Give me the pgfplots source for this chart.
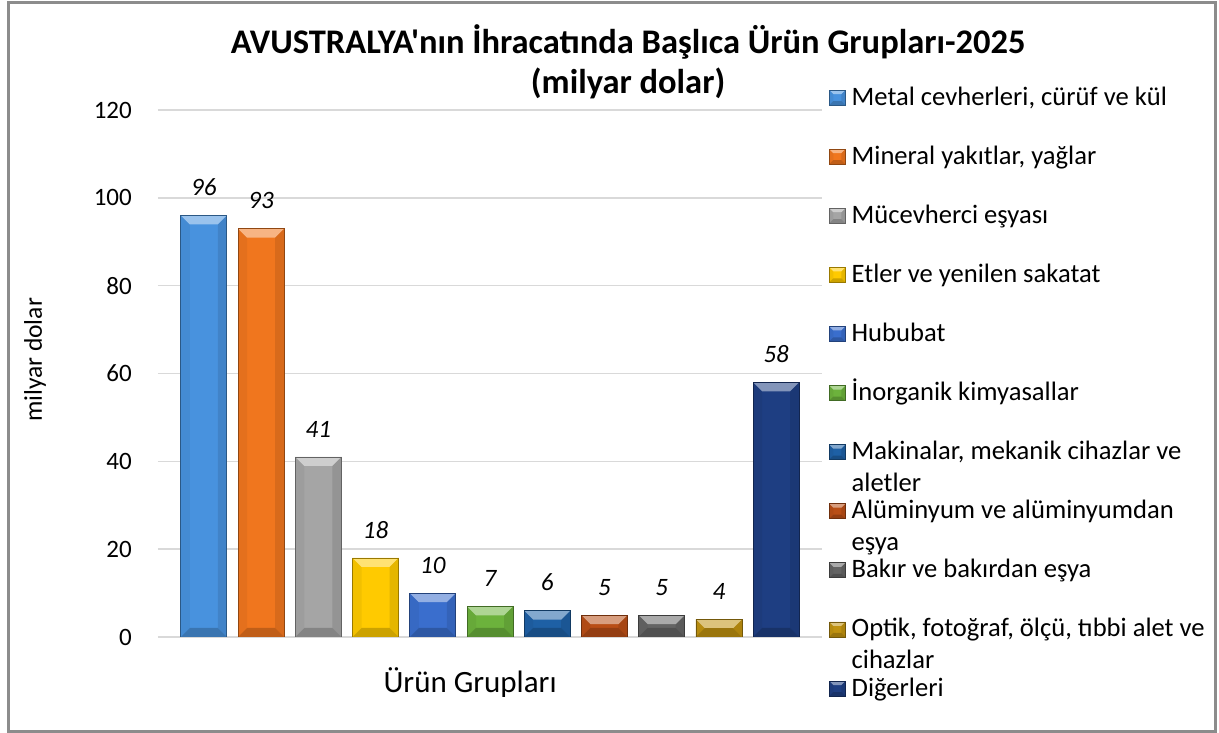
\documentclass[border=0pt]{standalone}
\usepackage{fontspec}
\setmainfont{Carlito}[Ligatures=TeXOff]
\usepackage{pgfplots}
\pgfplotsset{compat=1.18}
\definecolor{c1}{RGB}{72,146,222}
\definecolor{c2}{RGB}{240,118,30}
\definecolor{c3}{RGB}{165,165,165}
\definecolor{c4}{RGB}{255,202,0}
\definecolor{c5}{RGB}{58,110,205}
\definecolor{c6}{RGB}{108,178,60}
\definecolor{c7}{RGB}{30,96,165}
\definecolor{c8}{RGB}{185,78,22}
\definecolor{c9}{RGB}{100,100,100}
\definecolor{c10}{RGB}{192,146,16}
\definecolor{c11}{RGB}{30,62,130}
\definecolor{framegray}{RGB}{140,140,140}
\newcommand\beveld{9pt}
\newif\ifinbevel
\tikzset{bevel/.style={fill=#1, draw=#1!60!black, line width=0.7pt, bar shift=0pt,
  path picture={%
   \ifinbevel\else
   \inbeveltrue
   \pgfpointanchor{path picture bounding box}{south west}\pgfgetlastxy{\xa}{\ya}%
   \pgfpointanchor{path picture bounding box}{north east}\pgfgetlastxy{\xb}{\yb}%
   \pgfmathsetlengthmacro{\bd}{min(\beveld,0.5*(\yb-\ya),0.5*(\xb-\xa))}%
   \fill[draw=none, #1!95!black] (\xa,\ya) -- (\xa,\yb) -- (\xa+\bd,\yb-\bd) -- (\xa+\bd,\ya+\bd) -- cycle;
   \fill[draw=none, #1!90!black] (\xb,\ya) -- (\xb,\yb) -- (\xb-\bd,\yb-\bd) -- (\xb-\bd,\ya+\bd) -- cycle;
   \fill[draw=none, #1!55!white] (\xa,\yb) -- (\xb,\yb) -- (\xb-\bd,\yb-\bd) -- (\xa+\bd,\yb-\bd) -- cycle;
   \fill[draw=none, #1!80!black] (\xa,\ya) -- (\xb,\ya) -- (\xb-\bd,\ya+\bd) -- (\xa+\bd,\ya+\bd) -- cycle;
   \fi
  }}}
\newcommand\LE[1]{\raisebox{0pt}[20pt][39pt]{\parbox[t]{370pt}{\raggedright #1}}}
\begin{document}
\begin{tikzpicture}
\useasboundingbox (0,0) rectangle (1219pt,733pt);
\draw[framegray, line width=3pt] (8.5pt,1.7pt) rectangle (1215pt,730.5pt);
\begin{axis}[
  at={(158pt,96pt)}, anchor=south west,
  scale only axis, width=664pt, height=527pt,
  ybar, bar width=46pt, bar shift=0pt,
  ymin=0, ymax=120, ytick={0,20,...,120},
  xmin=-0.8, xmax=10.8, xtick=\empty,
  enlargelimits=false,
  axis line style={draw=none},
  major tick length=0pt,
  ymajorgrids, major grid style={draw=black!15, line width=1.5pt},
  /pgf/number format/assume math mode=true,
  yticklabel style={font=\fontsize{25}{30}\selectfont, inner sep=0pt, xshift=-26pt},
  every node near coord/.append style={font=\fontsize{25}{30}\selectfont\itshape, text=black, inner sep=0pt, yshift=19.5pt},
  every axis y label/.style={at={(axis description cs:-0.185,0.5256)}, rotate=90, anchor=center, font=\fontsize{25.5}{30}\selectfont},
  ylabel={milyar dolar},
  every axis x label/.style={at={(axis description cs:0.47,-0.1044)}, anchor=base, font=\fontsize{31}{36}\selectfont},
  xlabel={Ürün Grupları},
  every axis title/.style={at={(axis description cs:0.708,1.1063)}, anchor=base},
  title={\parbox[t]{950pt}{\centering\fontsize{34.5}{39.5}\selectfont\bfseries AVUSTRALYA'nın İhracatında Başlıca Ürün Grupları-2025\\(milyar dolar)}},
  legend style={at={(axis description cs:1.0105,1.0512)}, anchor=north west, draw=none, fill=none, inner sep=0pt, outer sep=0pt, row sep=33.6pt, column sep=4pt, font=\fontsize{26.6}{32}\selectfont, cells={anchor=base west, inner sep=0pt}},
  legend image code/.code={\def\beveld{4pt}\draw[#1] (0pt,0pt) rectangle (16pt,15pt);},
]
\addplot[bevel=c1] coordinates {(0,96)};
\addlegendentry{\LE{Metal cevherleri, cürüf ve kül}}
\addplot[bevel=c2] coordinates {(1,93)};
\addlegendentry{\LE{Mineral yakıtlar, yağlar}}
\addplot[bevel=c3] coordinates {(2,41)};
\addlegendentry{\LE{Mücevherci eşyası}}
\addplot[bevel=c4] coordinates {(3,18)};
\addlegendentry{\LE{Etler ve yenilen sakatat}}
\addplot[bevel=c5] coordinates {(4,10)};
\addlegendentry{\LE{Hububat}}
\addplot[bevel=c6] coordinates {(5,7)};
\addlegendentry{\LE{İnorganik kimyasallar}}
\addplot[bevel=c7] coordinates {(6,6)};
\addlegendentry{\LE{Makinalar, mekanik cihazlar ve\\aletler}}
\addplot[bevel=c8] coordinates {(7,5)};
\addlegendentry{\LE{Alüminyum ve alüminyumdan\\eşya}}
\addplot[bevel=c9] coordinates {(8,5)};
\addlegendentry{\LE{Bakır ve bakırdan eşya}}
\addplot[bevel=c10] coordinates {(9,4)};
\addlegendentry{\LE{Optik, fotoğraf, ölçü, tıbbi alet ve\\cihazlar}}
\addplot[bevel=c11] coordinates {(10,58)};
\addlegendentry{\LE{Diğerleri}}
\addplot[forget plot, draw=none, fill=none, bar shift=0pt, nodes near coords]
  coordinates {(0,96) (1,93) (2,41) (3,18) (4,10) (5,7) (6,6) (7,5) (8,5) (9,4) (10,58)};
\end{axis}
\end{tikzpicture}
\end{document}
